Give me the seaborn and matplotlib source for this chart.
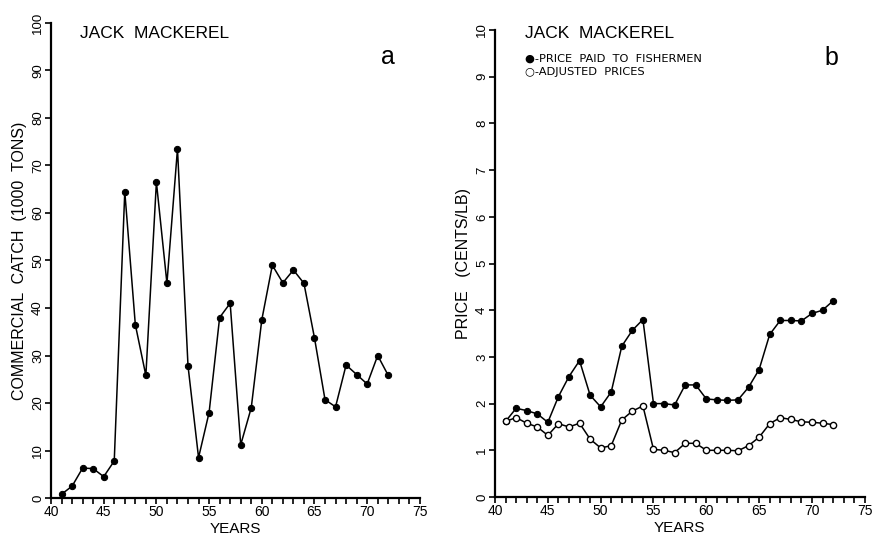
import numpy as np
import pandas as pd
import matplotlib
matplotlib.use("Agg")
import matplotlib.pyplot as plt
import seaborn as sns
from matplotlib.ticker import MultipleLocator

years = list(range(1941, 1973))
year_labels = [y - 1900 for y in years]

catch = [0.8, 2.5, 6.3, 6.2, 4.5, 7.8, 64.5, 36.5, 25.8, 66.5, 45.2, 73.5,
         27.8, 8.5, 18.0, 38.0, 41.0, 11.2, 19.0, 37.5, 49.0, 45.3, 48.0, 45.2,
         33.7, 20.7, 19.2, 28.0, 26.0, 24.0, 30.0, 25.8]

price_paid = [1.62, 1.90, 1.85, 1.78, 1.60, 2.15, 2.58, 2.92, 2.18, 1.93, 2.25, 3.23,
              3.57, 3.80, 2.00, 2.00, 1.97, 2.40, 2.40, 2.10, 2.08, 2.07, 2.08, 2.35,
              2.73, 3.48, 3.78, 3.78, 3.77, 3.93, 4.00, 4.20]

price_adjusted = [1.62, 1.70, 1.58, 1.50, 1.32, 1.57, 1.50, 1.58, 1.24, 1.05, 1.10, 1.65,
                  1.84, 1.95, 1.02, 1.00, 0.95, 1.15, 1.15, 1.00, 1.00, 1.00, 0.99, 1.10,
                  1.28, 1.57, 1.70, 1.66, 1.61, 1.60, 1.58, 1.55]

df = pd.DataFrame({"year": year_labels, "catch": catch,
                   "paid": price_paid, "adjusted": price_adjusted})

sns.set_style("ticks")
plt.rcParams["font.family"] = ["Liberation Sans", "DejaVu Sans"]
plt.rcParams["text.color"] = "black"
plt.rcParams["axes.labelcolor"] = "black"

fig = plt.figure(figsize=(8.72, 5.38), dpi=100)
ax1 = fig.add_axes([0.0585, 0.0743, 0.423, 0.883])
ax2 = fig.add_axes([0.5677, 0.0762, 0.424, 0.868])

sns.lineplot(data=df, x="year", y="catch", ax=ax1, color="black", lw=1.1,
             marker="o", markersize=4.5, markerfacecolor="black",
             markeredgecolor="black")
sns.lineplot(data=df, x="year", y="paid", ax=ax2, color="black", lw=1.1,
             marker="o", markersize=4.5, markerfacecolor="black",
             markeredgecolor="black")
sns.lineplot(data=df, x="year", y="adjusted", ax=ax2, color="black", lw=1.1,
             marker="o", markersize=4.5, markerfacecolor="white",
             markeredgecolor="black", markeredgewidth=1.0)

for ax, ymax, ystep in [(ax1, 100, 10), (ax2, 10, 1)]:
    ax.set_xlim(40, 75)
    ax.set_ylim(0, ymax)
    ax.xaxis.set_major_locator(MultipleLocator(5))
    ax.xaxis.set_minor_locator(MultipleLocator(1))
    ax.yaxis.set_major_locator(MultipleLocator(ystep))
    for s in ["top", "right"]:
        ax.spines[s].set_visible(False)
    for s in ["left", "bottom"]:
        ax.spines[s].set_linewidth(1.6)
        ax.spines[s].set_color("black")
    ax.tick_params(axis="x", which="major", direction="out", length=4, width=1.2,
                   labelsize=10, pad=1, colors="black")
    ax.tick_params(axis="x", which="minor", direction="out", length=4, width=1.2,
                   colors="black")
    ax.tick_params(axis="y", which="major", direction="out", length=4, width=1.2,
                   labelsize=9.5, pad=1, colors="black")
    for lbl in ax.get_yticklabels():
        lbl.set_rotation(90)
        lbl.set_va("center")
    ax.set_xlabel("YEARS", fontsize=11, labelpad=2)

ax1.set_ylabel("COMMERCIAL  CATCH  (1000  TONS)", fontsize=11.5, labelpad=4)
ax2.set_ylabel("PRICE   (CENTS/LB)", fontsize=11.5, labelpad=4)

ax1.text(0.078, 0.978, "JACK  MACKEREL", transform=ax1.transAxes,
         fontsize=12.5, va="center", ha="left")
ax1.text(0.913, 0.928, "a", transform=ax1.transAxes, fontsize=18,
         va="center", ha="center")

ax2.text(0.08, 0.993, "JACK  MACKEREL", transform=ax2.transAxes,
         fontsize=12.5, va="center", ha="left")
ax2.text(0.91, 0.94, "b", transform=ax2.transAxes, fontsize=18,
         va="center", ha="center")
ax2.text(0.08, 0.938, "\u25cf-PRICE  PAID  TO  FISHERMEN", transform=ax2.transAxes,
         fontsize=8.2, va="center", ha="left", family=["DejaVu Sans"])
ax2.text(0.08, 0.91, "\u25cb-ADJUSTED  PRICES", transform=ax2.transAxes,
         fontsize=8.2, va="center", ha="left", family=["DejaVu Sans"])

fig.savefig("out.png", dpi=100)
